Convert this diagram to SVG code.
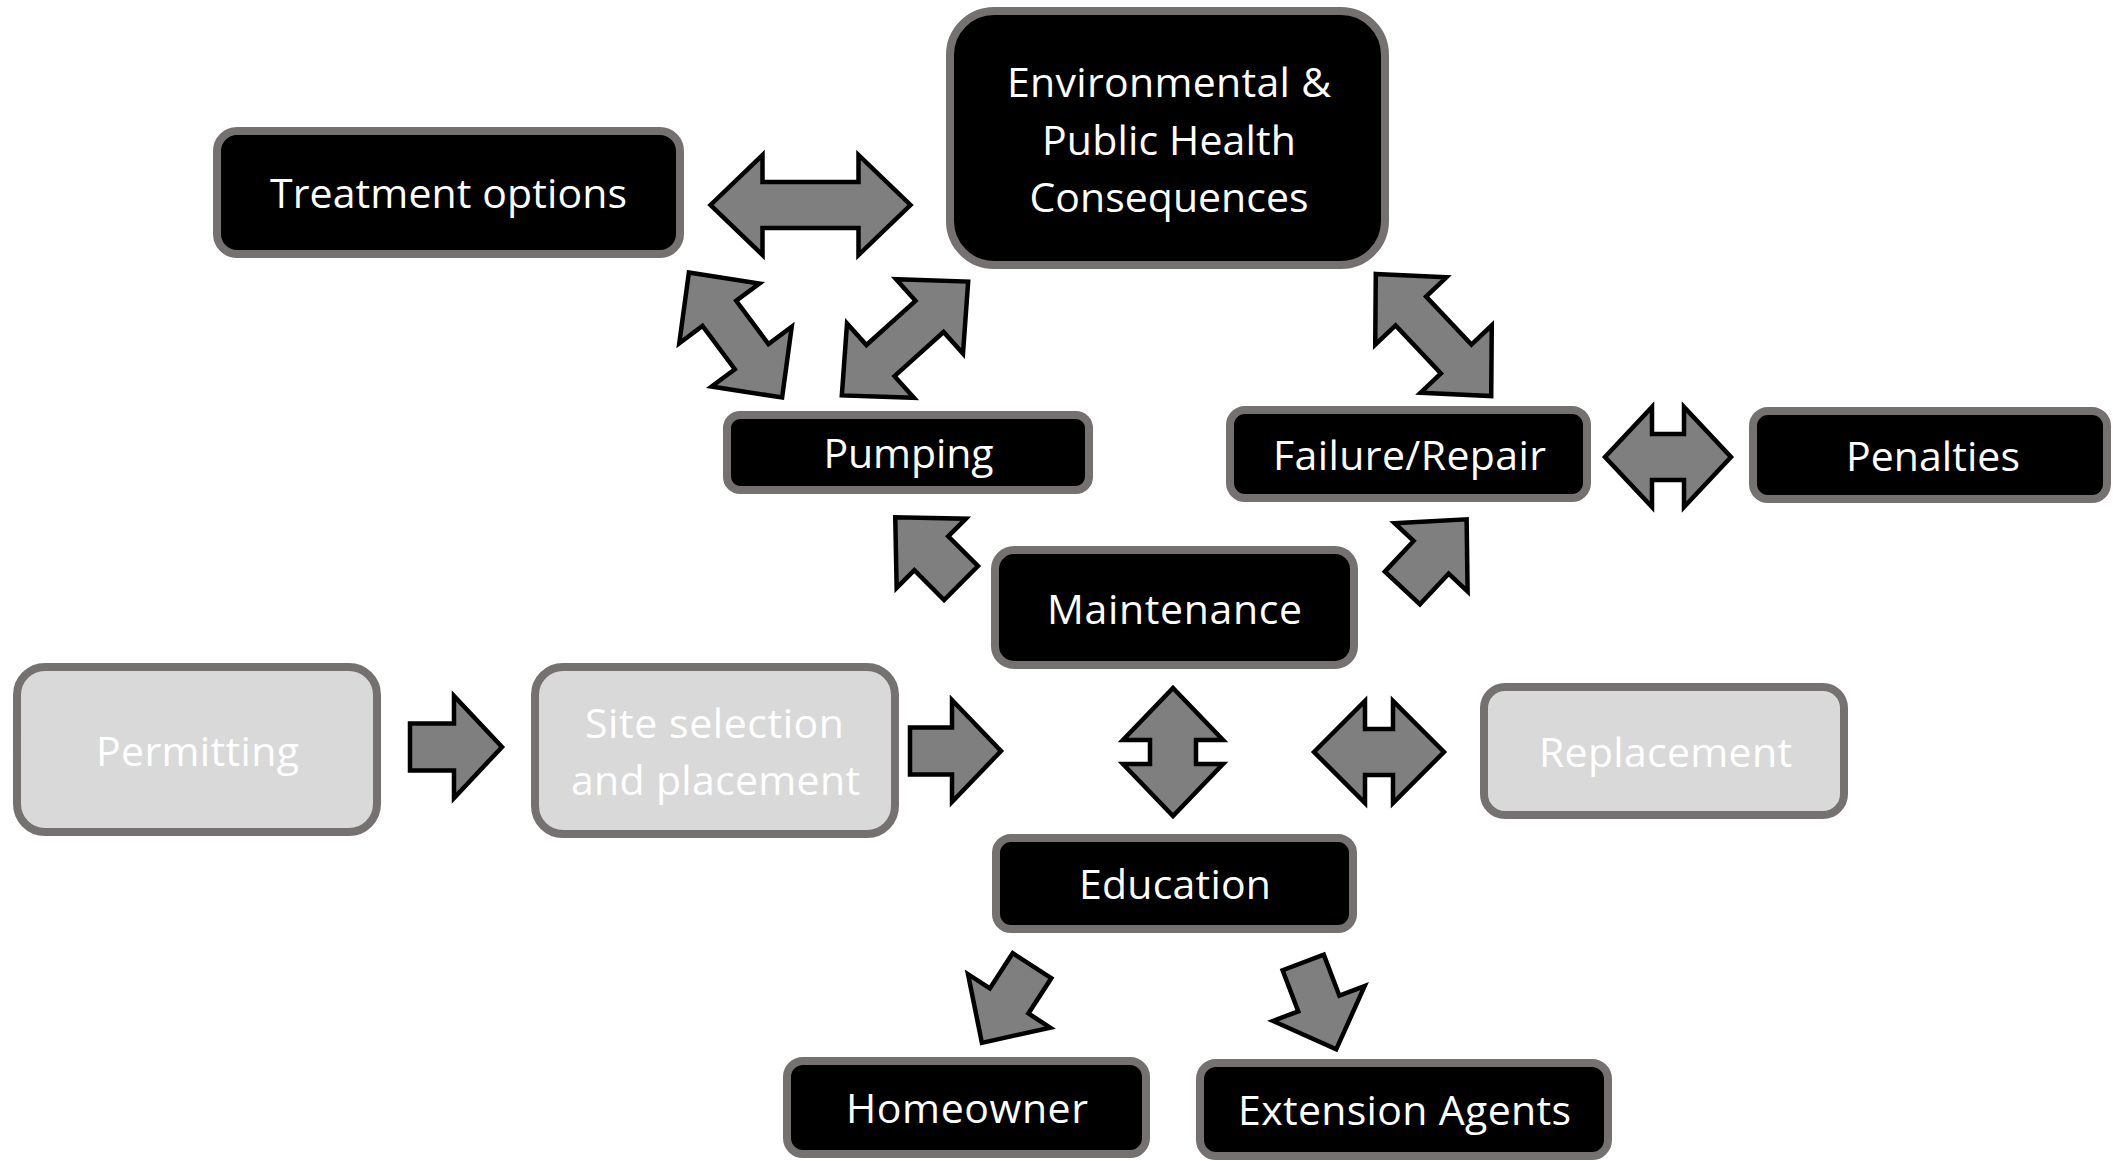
<svg xmlns="http://www.w3.org/2000/svg" width="2113" height="1161" viewBox="0 0 2113 1161">
<style>
.box{fill:#000;stroke:#767171;stroke-width:8}
.lbox{fill:#d9d9d9;stroke:#767171;stroke-width:8}
.t{font-family:"Open Sans","Liberation Sans",sans-serif;font-size:41px;fill:#fff;text-anchor:middle}
.ar{fill:#7f7f7f;stroke:#000;stroke-width:4.5;stroke-linejoin:miter}
</style>
<rect width="2113" height="1161" fill="#fff"/>
<g id="connectors">
<polygon class="ar" transform="translate(810.5,205)" points="-100,0 -48,-50 -48,-23 48,-23 48,-50 100,0 48,50 48,23 -48,23 -48,50"/>
<polygon class="ar" transform="translate(735.5,335) rotate(53.3)" points="-78,0 -27,-50 -27,-21 27,-21 27,-50 78,0 27,50 27,21 -27,21 -27,50"/>
<polygon class="ar" transform="translate(905,338.5) rotate(-42)" points="-85,0 -33,-50 -33,-21 33,-21 33,-50 85,0 33,50 33,21 -33,21 -33,50"/>
<polygon class="ar" transform="translate(1433.5,335) rotate(46.6)" points="-84,0 -33,-49 -33,-21 33,-21 33,-49 84,0 33,49 33,21 -33,21 -33,49"/>
<polygon class="ar" transform="translate(1668,457)" points="-63,0 -16,-50 -16,-23 16,-23 16,-50 63,0 16,50 16,23 -16,23 -16,50"/>
<polygon class="ar" transform="translate(1173,752) rotate(90)" points="-64,0 -12,-50 -12,-23 12,-23 12,-50 64,0 12,50 12,23 -12,23 -12,50"/>
<polygon class="ar" transform="translate(1379,752)" points="-65,0 -14,-51 -14,-23 14,-23 14,-51 65,0 14,51 14,23 -14,23 -14,51"/>
<polygon class="ar" transform="translate(961,583) rotate(-135)" points="0,-24 42,-24 42,-49 93,0 42,49 42,24 0,24"/>
<polygon class="ar" transform="translate(1402.4,588) rotate(-46.9)" points="0,-24 42,-24 42,-50 94,0 42,50 42,24 0,24"/>
<polygon class="ar" transform="translate(410,747)" points="0,-23.5 44,-23.5 44,-51 92,0 44,51 44,23.5 0,23.5"/>
<polygon class="ar" transform="translate(910,751)" points="0,-23.5 42,-23.5 42,-51 91,0 42,51 42,23.5 0,23.5"/>
<polygon class="ar" transform="translate(1032,965.7) rotate(123)" points="0,-23 42,-23 42,-49 92,0 42,49 42,23 0,23"/>
<polygon class="ar" transform="translate(1303.2,962.4) rotate(69.2)" points="0,-22 44,-22 44,-49 93,0 44,49 44,22 0,22"/>
</g>
<g id="treatment"><rect class="box" x="217" y="131" width="463" height="123" rx="20"/><text class="t" x="448.5" y="208" textLength="357">Treatment options</text></g>
<g id="environmental"><rect class="box" x="950" y="11" width="435" height="254" rx="44"/><text class="t" x="1169" y="97" textLength="324">Environmental &amp;</text><text class="t" x="1169" y="154.5" textLength="254">Public Health</text><text class="t" x="1169" y="212" textLength="279">Consequences</text></g>
<g id="pumping"><rect class="box" x="727" y="415" width="362" height="75" rx="13"/><text class="t" x="908.5" y="468" textLength="170">Pumping</text></g>
<g id="failure"><rect class="box" x="1230" y="410" width="357" height="88" rx="15"/><text class="t" x="1409.5" y="470" textLength="273">Failure/Repair</text></g>
<g id="penalties"><rect class="box" x="1753" y="411" width="354" height="88" rx="15"/><text class="t" x="1933" y="471" textLength="174">Penalties</text></g>
<g id="maintenance"><rect class="box" x="995" y="550" width="359" height="115" rx="19"/><text class="t" x="1174.5" y="624" textLength="255">Maintenance</text></g>
<g id="permitting"><rect class="lbox" x="17" y="667" width="360" height="165" rx="28"/><text class="t" x="197.5" y="766" textLength="203">Permitting</text></g>
<g id="site"><rect class="lbox" x="535" y="667" width="360" height="167" rx="28"/><text class="t" x="714.5" y="738" textLength="259">Site selection</text><text class="t" x="715.5" y="795" textLength="289">and placement</text></g>
<g id="replacement"><rect class="lbox" x="1484" y="687" width="360" height="128" rx="21"/><text class="t" x="1665.5" y="767" textLength="253">Replacement</text></g>
<g id="education"><rect class="box" x="996" y="838" width="357" height="91" rx="15"/><text class="t" x="1175" y="899" textLength="192">Education</text></g>
<g id="homeowner"><rect class="box" x="787" y="1061" width="359" height="93" rx="16"/><text class="t" x="967" y="1123" textLength="242">Homeowner</text></g>
<g id="extension"><rect class="box" x="1200" y="1063" width="408" height="93" rx="16"/><text class="t" x="1404.5" y="1125" textLength="333">Extension Agents</text></g>
</svg>
